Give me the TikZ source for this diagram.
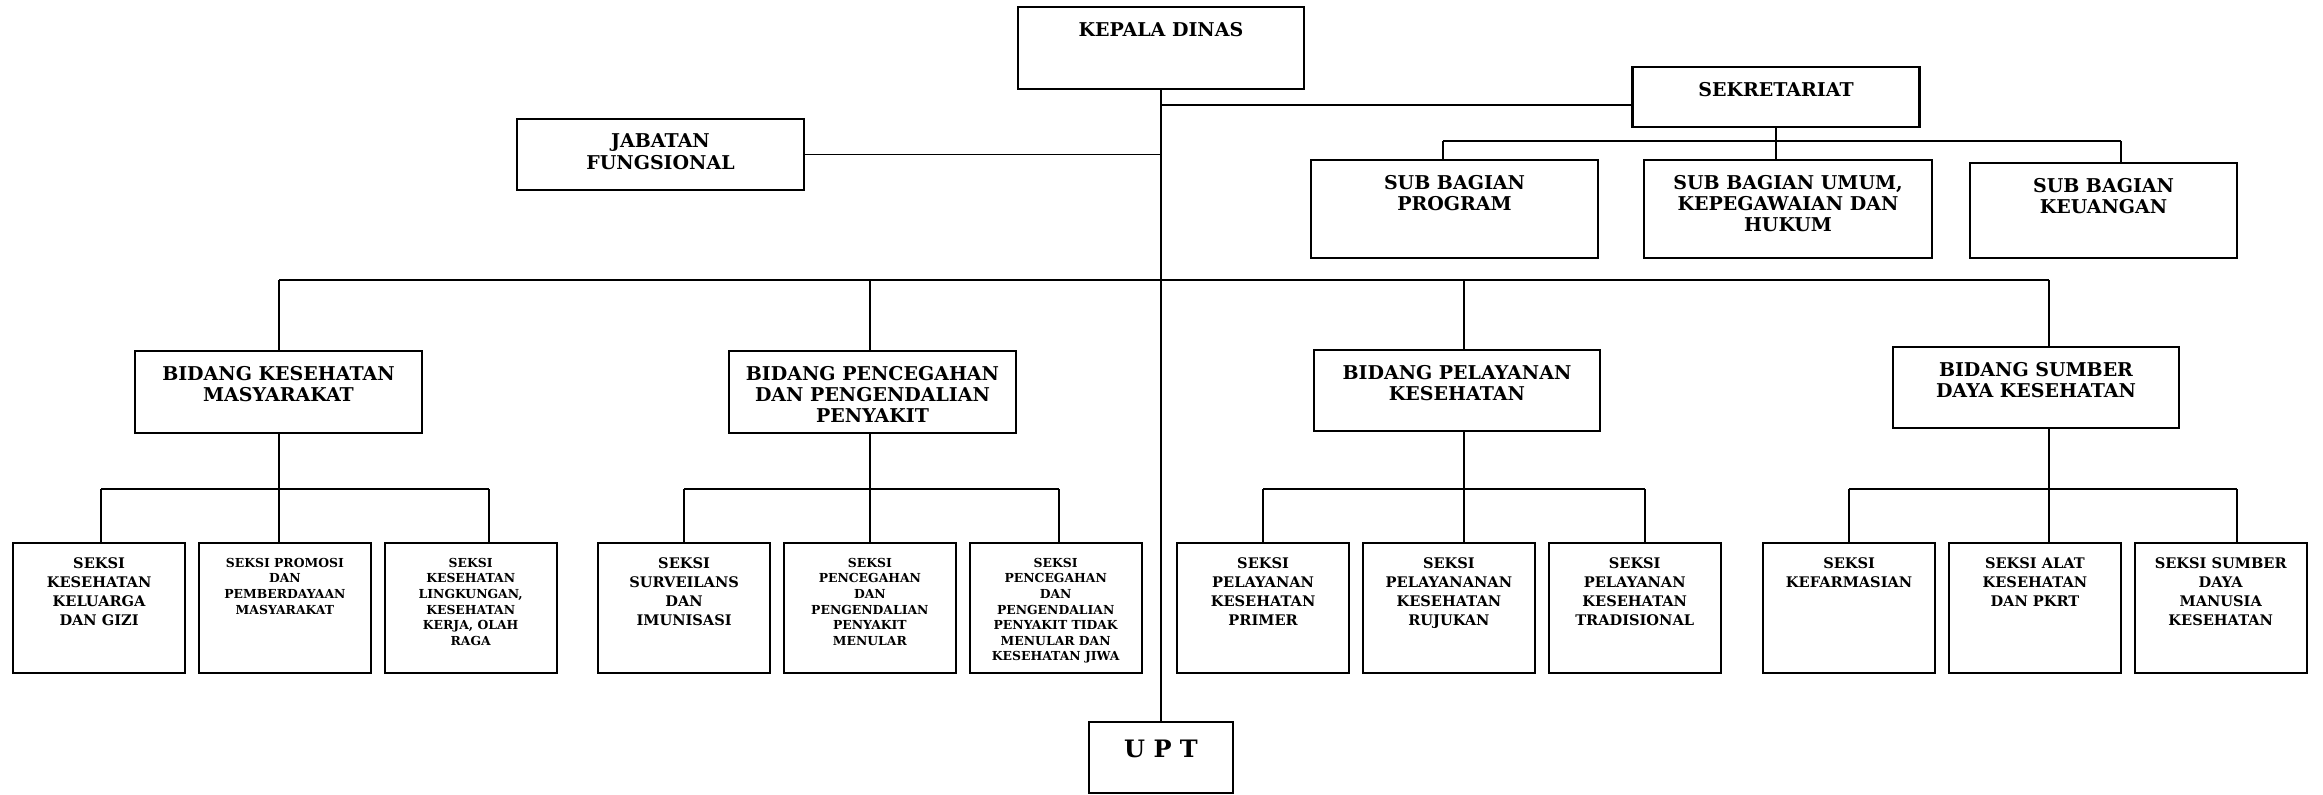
\documentclass[tikz,border=0pt]{standalone}
\usepackage{fontspec}
\setmainfont{DejaVu Serif}
\usetikzlibrary{positioning}

\begin{document}
\begin{tikzpicture}[
    x=0.5pt, y=-0.5pt,
    node distance=5.8pt,
    box/.style n args={3}{
        draw=black,
        line width=1.1pt,
        inner sep=0pt,
        execute at begin node={\begin{minipage}[t][#2][t]{#1}\centering\vspace*{#3}},
        execute at end node={\end{minipage}}
    },
    head/.style 2 args={
        box={#1}{#2}{7.5pt},
        font=\fontsize{9.5}{10.6}\selectfont\bfseries
    },
    seksibig/.style={
        box={86pt}{65pt}{7.5pt},
        font=\fontsize{7.3}{9.4}\selectfont\bfseries
    },
    seksismall/.style={
        box={86pt}{65pt}{7.5pt},
        font=\fontsize{6.2}{7.8}\selectfont\bfseries
    },
    link/.style={
        line width=0.8pt
    }
]
\useasboundingbox (0,0) rectangle (2323,794);

% --- top nodes ---
\node (kadin) [head={143pt}{41pt}] at (1161,48) {KEPALA DINAS};
\node (sekre) [head={143.5pt}{30pt}] at (1776,97) {SEKRETARIAT};
\node (jabfung) [head={143.5pt}{35.5pt}] at (660.5,154.5) {JABATAN\\FUNGSIONAL};

% --- sub bagian nodes ---
\node (subprog) [head={143.5pt}{49pt}] at (1454.5,209) {SUB BAGIAN\\PROGRAM};
\node (subumum) [head={144pt}{49pt}] at (1788,209) {SUB BAGIAN UMUM,\\KEPEGAWAIAN DAN\\HUKUM};
\node (subkeu) [head={133.5pt}{47.5pt}] at (2103.5,210.5) {SUB BAGIAN\\KEUANGAN};

% --- bidang nodes ---
\node (bidkesmas) [head={143.5pt}{41pt}] at (278.5,392) {BIDANG KESEHATAN\\MASYARAKAT};
\node (bidp2p) [head={143.5pt}{41pt}] at (872.5,392) {BIDANG PENCEGAHAN\\DAN PENGENDALIAN\\PENYAKIT};
\node (bidyankes) [head={143pt}{40.5pt}] at (1457,390.5) {BIDANG PELAYANAN\\KESEHATAN};
\node (bidsdk) [head={143pt}{40.5pt}] at (2036,387.5) {BIDANG SUMBER\\DAYA KESEHATAN};

% --- seksi nodes ---
\node (kesga) [seksibig, anchor=north west] at (12,542) {SEKSI\\KESEHATAN\\KELUARGA\\DAN GIZI};
\node (promkes) [seksismall, right=of kesga] {SEKSI PROMOSI\\DAN\\PEMBERDAYAAN\\MASYARAKAT};
\node (kesling) [seksismall, right=of promkes] {SEKSI\\KESEHATAN\\LINGKUNGAN,\\KESEHATAN\\KERJA, OLAH\\RAGA};

\node (survim) [seksibig, anchor=north west] at (597,542) {SEKSI\\SURVEILANS\\DAN\\IMUNISASI};
\node (p2pm) [seksismall, right=of survim] {SEKSI\\PENCEGAHAN\\DAN\\PENGENDALIAN\\PENYAKIT\\MENULAR};
\node (p2ptm) [seksismall, right=of p2pm] {SEKSI\\PENCEGAHAN\\DAN\\PENGENDALIAN\\PENYAKIT TIDAK\\MENULAR DAN\\KESEHATAN JIWA};

\node (yanprim) [seksibig, anchor=north west] at (1176,542) {SEKSI\\PELAYANAN\\KESEHATAN\\PRIMER};
\node (yanruj) [seksibig, right=of yanprim] {SEKSI\\PELAYANANAN\\KESEHATAN\\RUJUKAN};
\node (yantrad) [seksibig, right=of yanruj] {SEKSI\\PELAYANAN\\KESEHATAN\\TRADISIONAL};

\node (farmasi) [seksibig, anchor=north west] at (1762,542) {SEKSI\\KEFARMASIAN};
\node (alkes) [seksibig, right=of farmasi] {SEKSI ALAT\\KESEHATAN\\DAN PKRT};
\node (sdmk) [seksibig, right=of alkes] {SEKSI SUMBER\\DAYA\\MANUSIA\\KESEHATAN};

% --- output node ---
\node (upt) [box={72pt}{35.5pt}{9.2pt}, font=\fontsize{12}{14}\selectfont\bfseries] at (1161,757.5) {U P T};

% --- top lines ---
\draw [link] (kadin.south) -- (kadin.south |- upt.north);
\draw [link] (jabfung.east) -- (jabfung.east -| kadin.south);
\coordinate (sekjoin) at (1161,105);
\draw [link] (sekjoin) -- (sekjoin -| sekre.west);
\coordinate (subl) at (1443,141);
\coordinate (subr) at (2121,141);
\draw [link] (subl) -- (subr);
\draw [link] (subl) -- (subl |- subprog.north);
\draw [link] (sekre.south) -- (sekre.south |- subumum.north);
\draw [link] (subr) -- (subr |- subkeu.north);

% --- bidang lines ---
\coordinate (bar1) at (279,280);
\coordinate (bar2) at (870,280);
\coordinate (bar3) at (1464,280);
\coordinate (bar4) at (2049,280);
\draw [link] (bar1) -- (bar4);
\draw [link] (bar1) -- (bar1 |- bidkesmas.north);
\draw [link] (bar2) -- (bar2 |- bidp2p.north);
\draw [link] (bar3) -- (bar3 |- bidyankes.north);
\draw [link] (bar4) -- (bar4 |- bidsdk.north);

% --- seksi lines ---
\coordinate (g1l) at (101,489);
\coordinate (g1r) at (489,489);
\draw [link] (g1l) -- (g1r);
\draw [link] (g1l) -- (g1l |- kesga.north);
\draw [link] (bar1 |- bidkesmas.south) -- (bar1 |- promkes.north);
\draw [link] (g1r) -- (g1r |- kesling.north);

\coordinate (g2l) at (684,489);
\coordinate (g2r) at (1059,489);
\draw [link] (g2l) -- (g2r);
\draw [link] (g2l) -- (g2l |- survim.north);
\draw [link] (bar2 |- bidp2p.south) -- (bar2 |- p2pm.north);
\draw [link] (g2r) -- (g2r |- p2ptm.north);

\coordinate (g3l) at (1263,489);
\coordinate (g3r) at (1645,489);
\draw [link] (g3l) -- (g3r);
\draw [link] (g3l) -- (g3l |- yanprim.north);
\draw [link] (bar3 |- bidyankes.south) -- (bar3 |- yanruj.north);
\draw [link] (g3r) -- (g3r |- yantrad.north);

\coordinate (g4l) at (1849,489);
\coordinate (g4r) at (2237,489);
\draw [link] (g4l) -- (g4r);
\draw [link] (g4l) -- (g4l |- farmasi.north);
\draw [link] (bar4 |- bidsdk.south) -- (bar4 |- alkes.north);
\draw [link] (g4r) -- (g4r |- sdmk.north);

\end{tikzpicture}
\end{document}
